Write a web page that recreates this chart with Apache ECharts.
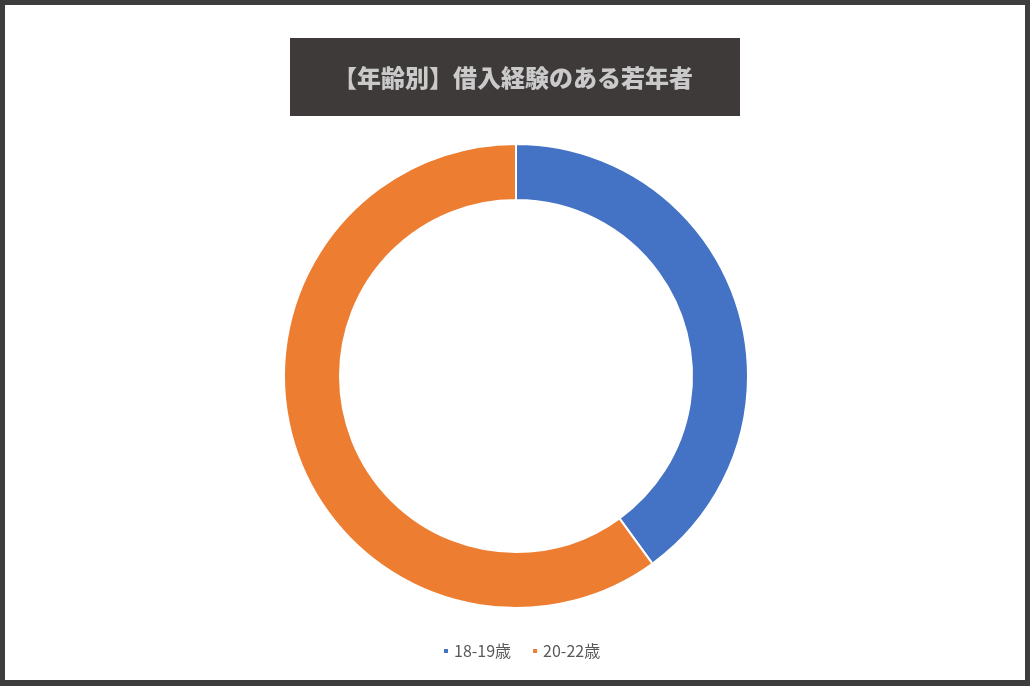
<!DOCTYPE html>
<html>
<head>
<meta charset="utf-8">
<script src="https://cdn.jsdelivr.net/npm/echarts@6/dist/echarts.min.js"></script>
<style>
html, body { margin: 0; padding: 0; background: #fff; }
#chart { width: 1030px; height: 686px; }
</style>
</head>
<body>
<div id="chart"></div>
<script>
var chartTitle = '【年齢別】借入経験のある若年者';
var ageGroups = ['18-19歳', '20-22歳'];
var shares = [40, 60];
var sliceColors = ['#4472C4', '#ED7D31'];

var myChart = echarts.init(document.getElementById('chart'));

var pieData = ageGroups.map(function (name, i) {
    return { name: name, value: shares[i], itemStyle: { color: sliceColors[i] } };
});

var frame = '#3d3d3d';

var option = {
    animation: false,
    backgroundColor: '#fff',
    legend: {
        data: ageGroups,
        left: 437,
        top: 638,
        icon: 'rect',
        itemWidth: 6,
        itemHeight: 6,
        itemGap: 20,
        textStyle: {
            color: '#595959',
            fontSize: 16,
            fontFamily: '"Noto Sans CJK JP", sans-serif'
        }
    },
    graphic: [
        // outer frame
        { type: 'rect', shape: { x: 0, y: 0, width: 1030, height: 5 }, style: { fill: frame } },
        { type: 'rect', shape: { x: 0, y: 680, width: 1030, height: 6 }, style: { fill: frame } },
        { type: 'rect', shape: { x: 0, y: 0, width: 5, height: 686 }, style: { fill: frame } },
        { type: 'rect', shape: { x: 1025, y: 0, width: 5, height: 686 }, style: { fill: frame } },
        // title box
        { type: 'rect', shape: { x: 290, y: 38, width: 450, height: 78 }, style: { fill: '#3e3a39' } },
        {
            type: 'text',
            x: 513, y: 78,
            style: {
                text: chartTitle,
                fill: '#cacaca',
                font: '900 24px "Noto Sans CJK JP", sans-serif',
                align: 'center',
                verticalAlign: 'middle'
            }
        }
    ],
    series: [{
        type: 'pie',
        center: [516, 376],
        radius: [176, 232],
        startAngle: 90,
        clockwise: true,
        label: { show: false },
        labelLine: { show: false },
        emphasis: { disabled: true },
        itemStyle: { borderColor: '#fff', borderWidth: 2 },
        data: pieData
    }]
};

myChart.setOption(option);
</script>
</body>
</html>
